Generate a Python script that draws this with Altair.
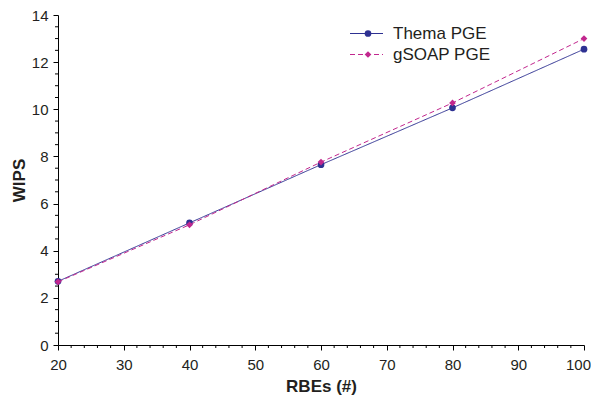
import altair as alt
import pandas as pd

rbes = [20, 40, 60, 80, 100]
thema = [2.70, 5.18, 7.65, 10.06, 12.55]
gsoap = [2.68, 5.10, 7.76, 10.27, 13.00]
series = ["Thema PGE", "gSOAP PGE"]
colors = ["#2E3192", "#C2278E"]
shapes = ["circle", "diamond"]
dashes = [[1, 0], [5, 3]]

x_major = [20, 30, 40, 50, 60, 70, 80, 90, 100]
x_minor = [v for v in range(20, 101, 2) if v % 10 != 0]
y_major = [0, 2, 4, 6, 8, 10, 12, 14]
y_minor = [v / 2 for v in range(0, 29) if v % 4 != 0]

W, H = 526, 330
FONT = "Liberation Sans"

df = pd.DataFrame({
    "RBEs": rbes * 2,
    "WIPS": thema + gsoap,
    "series": [series[0]] * len(rbes) + [series[1]] * len(rbes),
})

xs = alt.Scale(domain=[20, 100], nice=False)
ys = alt.Scale(domain=[0, 14], nice=False)

xaxis = alt.Axis(values=x_major, title="RBEs (#)", grid=False, tickSize=5,
                 labelPadding=7, titlePadding=6, format="d", labelFlush=False,
                 labelOffset={"expr": "datum.value == 100 ? -6 : 0"})
yaxis = alt.Axis(values=y_major, title="WIPS", grid=False, tickSize=5,
                 labelPadding=5, titlePadding=3, format="d", labelFlush=False)

layers = []
for i, s in enumerate(series):
    sub = df[df.series == s]
    base = alt.Chart(sub)
    line = base.mark_line(color=colors[i], strokeWidth=1, strokeDash=dashes[i]).encode(
        x=alt.X("RBEs:Q", scale=xs, axis=xaxis),
        y=alt.Y("WIPS:Q", scale=ys, axis=yaxis),
    )
    pts = base.mark_point(shape=shapes[i], filled=True, color=colors[i], size=45, opacity=1).encode(
        x=alt.X("RBEs:Q", scale=xs),
        y=alt.Y("WIPS:Q", scale=ys),
    )
    layers += [line, pts]

# minor ticks
xm = alt.Chart(pd.DataFrame({"v": x_minor})).mark_rule(color="#000", strokeWidth=1).encode(
    x=alt.X("v:Q", scale=xs), y=alt.value(H), y2=alt.value(H + 3))
ym = alt.Chart(pd.DataFrame({"v": y_minor})).mark_rule(color="#000", strokeWidth=1).encode(
    y=alt.Y("v:Q", scale=ys), x=alt.value(0), x2=alt.value(-3))
layers += [xm, ym]

# legend
leg = pd.DataFrame({"k": [0]})
for i, s in enumerate(series):
    yy = 18.5 + i * 21
    layers.append(alt.Chart(leg).mark_rule(color=colors[i], strokeWidth=1, strokeDash=dashes[i]).encode(
        x=alt.value(292), x2=alt.value(325), y=alt.value(yy)))
    layers.append(alt.Chart(leg).mark_point(shape=shapes[i], filled=True, color=colors[i], size=45, opacity=1).encode(
        x=alt.value(310), y=alt.value(yy)))
    layers.append(alt.Chart(leg).mark_text(text=s, align="left", baseline="middle", font=FONT,
                                            fontSize=17, color="#231F20").encode(
        x=alt.value(335), y=alt.value(yy)))

chart = alt.layer(*layers).properties(
    width=W, height=H,
    autosize=alt.AutoSizeParams(type="none"),
    padding={"left": 50, "top": 7, "right": 7, "bottom": 52},
).configure_view(stroke=None).configure_axis(
    domainColor="#000", tickColor="#000", labelColor="#231F20", titleColor="#231F20",
    labelFont=FONT, titleFont=FONT, labelFontSize=15, titleFontSize=17,
    titleFontWeight="bold", domainWidth=1, tickWidth=1,
)

chart.save("out.html", embed_options={"renderer": "svg", "actions": False})
